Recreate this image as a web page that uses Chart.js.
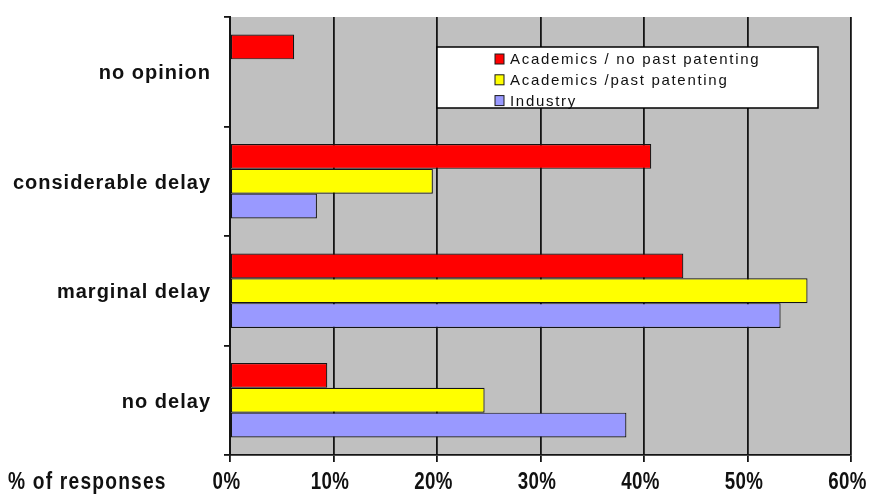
<!DOCTYPE html>
<html>
<head>
<meta charset="utf-8">
<script src="https://cdn.jsdelivr.net/npm/chart.js@4"></script>
<style>
  html, body { margin: 0; padding: 0; background: #ffffff; }
  #wrap { width: 870px; height: 498px; }
</style>
</head>
<body>
<div id="wrap"><canvas id="chart" width="870" height="498"></canvas></div>
<script>
// Delay categories, top to bottom
const categories = ['no opinion', 'considerable delay', 'marginal delay', 'no delay'];

// Share of responses (%) per group
const academicsNoPast = [6.2, 40.7, 43.8, 9.4];
const academicsPast   = [null, 19.6, 55.8, 24.6];
const industry        = [null, 8.4, 53.2, 38.3];

const seriesNames = ['Academics / no past patenting', 'Academics /past patenting', 'Industry'];
const xTicks = [0, 10, 20, 30, 40, 50, 60];
const axisTitle = '% of responses';

const colors = ['#ff0000', '#ffff00', '#9999ff'];
const sansFont = "'Liberation Sans', Arial, sans-serif";

// grey plotting area
const plotBackground = {
  id: 'plotBackground',
  beforeDraw(chart) {
    const { ctx, chartArea: a } = chart;
    ctx.save();
    ctx.fillStyle = '#c0c0c0';
    ctx.fillRect(a.left, a.top, a.right - a.left, a.bottom - a.top);
    ctx.restore();
  }
};

// condensed bold text, drawn with a horizontal squeeze
function narrowText(ctx, text, x, y, align, squeeze, spacing) {
  ctx.save();
  ctx.font = 'bold 24px ' + sansFont;
  ctx.letterSpacing = spacing + 'px';
  ctx.fillStyle = '#111111';
  ctx.textBaseline = 'alphabetic';
  ctx.textAlign = 'left';
  const w = ctx.measureText(text).width * squeeze;
  let left = x;
  if (align === 'center') left = x - w / 2;
  ctx.translate(left, y);
  ctx.scale(squeeze, 1);
  ctx.fillText(text, 0, 0);
  ctx.restore();
}

// axis labels for both scales, placed through the scales themselves
const axisLabels = {
  id: 'axisLabels',
  afterDraw(chart) {
    const { ctx } = chart;
    const xs = chart.scales.x, ys = chart.scales.y;

    ctx.save();
    ctx.font = 'bold 20px ' + sansFont;
    ctx.letterSpacing = '1px';
    ctx.fillStyle = '#111111';
    ctx.textAlign = 'right';
    ctx.textBaseline = 'middle';
    categories.forEach((c, i) => {
      ctx.fillText(c, ys.left + ys.width - 19, ys.getPixelForValue(i) + 2);
    });
    ctx.restore();

    const base = xs.bottom - 9;
    xTicks.forEach(v => {
      narrowText(ctx, v + '%', xs.getPixelForValue(v) - 3.5, base, 'center', 0.78, 0.5);
    });
    narrowText(ctx, axisTitle, 8, base, 'left', 0.8, 1.5);
  }
};

// boxed legend inside the plot
const boxedLegend = {
  id: 'boxedLegend',
  afterDraw(chart) {
    const { ctx } = chart;
    const x0 = 437, y0 = 47, w = 381, h = 61;
    ctx.save();
    ctx.fillStyle = '#ffffff';
    ctx.fillRect(x0, y0, w, h);
    ctx.strokeStyle = '#000000';
    ctx.lineWidth = 1.5;
    ctx.strokeRect(x0, y0, w, h);
    ctx.font = '15px ' + sansFont;
    ctx.letterSpacing = '1.7px';
    ctx.textBaseline = 'middle';
    chart.data.datasets.forEach((ds, i) => {
      const cy = 59 + i * 20.8;
      ctx.fillStyle = ds.backgroundColor;
      ctx.fillRect(495, cy - 5, 9, 10);
      ctx.strokeStyle = '#1a1a1a';
      ctx.lineWidth = 1;
      ctx.strokeRect(495, cy - 5, 9, 10);
      ctx.fillStyle = '#111111';
      ctx.fillText(ds.label, 510, cy + 1);
    });
    ctx.restore();
  }
};

new Chart(document.getElementById('chart'), {
  type: 'bar',
  data: {
    labels: categories,
    datasets: [
      { label: seriesNames[0], data: academicsNoPast, backgroundColor: colors[0] },
      { label: seriesNames[1], data: academicsPast, backgroundColor: colors[1] },
      { label: seriesNames[2], data: industry, backgroundColor: colors[2] }
    ]
  },
  options: {
    indexAxis: 'y',
    responsive: false,
    animation: false,
    layout: { padding: { top: 17, right: 19, left: 0, bottom: 0 } },
    datasets: {
      bar: {
        borderColor: '#141414',
        borderWidth: 1.2,
        borderSkipped: false,
        barPercentage: 1.0,
        categoryPercentage: 0.68
      }
    },
    plugins: {
      legend: { display: false },
      tooltip: { enabled: false }
    },
    scales: {
      x: {
        min: 0,
        max: 60,
        afterFit(scale) { scale.height = 43; },
        afterBuildTicks(scale) { scale.ticks = xTicks.map(v => ({ value: v })); },
        ticks: { display: false },
        grid: {
          color: '#141414',
          lineWidth: 1.8,
          drawTicks: true,
          tickLength: 7,
          tickColor: '#141414'
        },
        border: { display: true, color: '#141414', width: 1.8 }
      },
      y: {
        afterFit(scale) { scale.width = 230; },
        ticks: { display: false },
        grid: {
          offset: true,
          drawOnChartArea: false,
          drawTicks: true,
          tickLength: 6,
          tickColor: '#141414',
          lineWidth: 1.8
        },
        border: { display: true, color: '#141414', width: 2 }
      }
    }
  },
  plugins: [plotBackground, axisLabels, boxedLegend]
});
</script>
</body>
</html>
